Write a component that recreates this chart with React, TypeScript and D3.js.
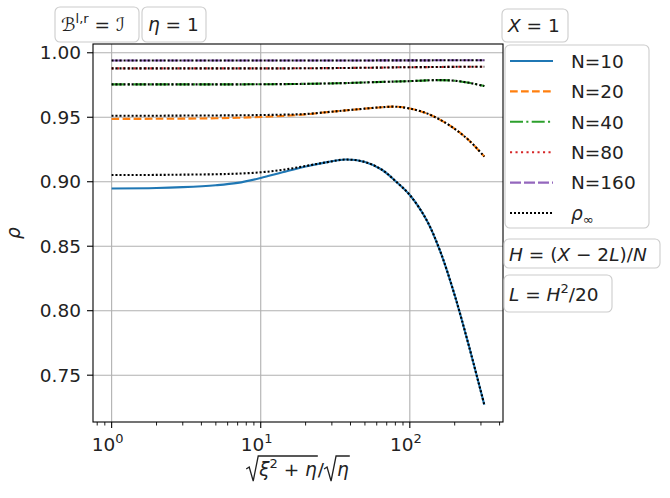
import React, { useEffect, useRef } from 'react';
import * as d3 from 'd3';

// sample positions along sqrt(xi^2+eta)/sqrt(eta)
const xs = [1, 2, 3, 5, 7, 10, 14, 20, 28, 37, 50, 65, 80, 100, 130, 160, 200, 250, 316];

const n10 = [0.8948, 0.8951, 0.8958, 0.8973, 0.8991, 0.9029, 0.9073, 0.9118, 0.9152, 0.9172, 0.9153, 0.9093, 0.9006, 0.8897, 0.8700, 0.8460, 0.8120, 0.7720, 0.7270];
const n20 = [0.9487, 0.9488, 0.9489, 0.9492, 0.9496, 0.9502, 0.9510, 0.9522, 0.9540, 0.9553, 0.9567, 0.9578, 0.9582, 0.9568, 0.9530, 0.9480, 0.9410, 0.9320, 0.9195];
const n40 = [0.9755, 0.9755, 0.9755, 0.9755, 0.9755, 0.9756, 0.9757, 0.9759, 0.9762, 0.9765, 0.9770, 0.9774, 0.9777, 0.9780, 0.9786, 0.9788, 0.9783, 0.9767, 0.9742];
const n80 = [0.9879, 0.9879, 0.9879, 0.9879, 0.9879, 0.9879, 0.9879, 0.9880, 0.9881, 0.9882, 0.9884, 0.9885, 0.9887, 0.9888, 0.9889, 0.9890, 0.9891, 0.9892, 0.9892];
const n160 = [0.9940, 0.9940, 0.9940, 0.9940, 0.9940, 0.9940, 0.9940, 0.9940, 0.9940, 0.9940, 0.9940, 0.9941, 0.9941, 0.9941, 0.9941, 0.9942, 0.9942, 0.9942, 0.9942];

// rho_inf curves (only N=10 and N=20 differ visibly at small x)
const rho10 = [0.9052, 0.9053, 0.9055, 0.9058, 0.9063, 0.9073, 0.9092, 0.9122, 0.9152, 0.9172, 0.9153, 0.9093, 0.9006, 0.8897, 0.8700, 0.8460, 0.8120, 0.7720, 0.7270];
const rho20 = [0.9512, 0.9512, 0.9513, 0.9514, 0.9515, 0.9517, 0.9520, 0.9525, 0.9540, 0.9553, 0.9567, 0.9578, 0.9582, 0.9568, 0.9530, 0.9480, 0.9410, 0.9320, 0.9195];
const rhoInf = [rho10, rho20, n40, n80, n160];

const labels = ['N=10', 'N=20', 'N=40', 'N=80', 'N=160'];
const colors = ['#1f77b4', '#ff7f0e', '#2ca02c', '#d62728', '#9467bd'];
const dashes = [null, '7.7,3.3', '13,3.3,2.1,3.3', '2.1,3.4', '11,3'];

const xTicks = [1, 10, 100];
const yTicks = [0.75, 0.8, 0.85, 0.9, 0.95, 1.0];

const App = () => {
  const svgRef = useRef<SVGSVGElement>(null);

  useEffect(() => {
    const svg = d3.select(svgRef.current);
    svg.selectAll('*').remove();
    const font = 'DejaVu Sans';
    const fs = 18.5;
    const left = 93, right = 503, top = 44, bottom = 422;

    const x = d3.scaleLog().domain([Math.pow(10, -0.125), Math.pow(10, 2.625)]).range([left, right]);
    const y = d3.scaleLinear().domain([0.7137, 1.0068]).range([bottom, top]);

    // grid
    const grid = svg.append('g').attr('stroke', '#b0b0b0').attr('stroke-width', 1.1);
    xTicks.forEach(t => grid.append('line').attr('x1', x(t)).attr('x2', x(t)).attr('y1', top).attr('y2', bottom));
    yTicks.forEach(t => grid.append('line').attr('x1', left).attr('x2', right).attr('y1', y(t)).attr('y2', y(t)));

    const line = d3.line<number>()
      .x((d, i) => x(xs[i]))
      .y(d => y(d))
      .curve(d3.curveCatmullRom.alpha(0.5));

    [n10, n20, n40, n80, n160].forEach((vals, i) => {
      svg.append('path')
        .attr('d', line(vals))
        .attr('fill', 'none')
        .attr('stroke', colors[i])
        .attr('stroke-width', 2.1)
        .attr('stroke-dasharray', dashes[i]);
    });
    rhoInf.forEach(vals => {
      svg.append('path')
        .attr('d', line(vals))
        .attr('fill', 'none')
        .attr('stroke', '#000')
        .attr('stroke-width', 2.1)
        .attr('stroke-dasharray', '2,2');
    });

    // frame
    svg.append('rect')
      .attr('x', left).attr('y', top)
      .attr('width', right - left).attr('height', bottom - top)
      .attr('fill', 'none').attr('stroke', '#000').attr('stroke-width', 1.1);

    // y ticks
    yTicks.forEach(t => {
      svg.append('line').attr('x1', left - 6).attr('x2', left).attr('y1', y(t)).attr('y2', y(t))
        .attr('stroke', '#000').attr('stroke-width', 1.1);
      svg.append('text').attr('x', left - 12).attr('y', y(t)).attr('dy', '0.36em')
        .attr('text-anchor', 'end').attr('font-family', font).attr('font-size', fs).attr('fill', '#222')
        .text(t.toFixed(2));
    });

    // x ticks major + minor
    const minor: number[] = [];
    [0.1, 1, 10, 100].forEach(d => {
      for (let k = 2; k <= 9; k++) {
        const v = d * k;
        if (x(v) >= left && x(v) <= right) minor.push(v);
      }
    });
    minor.forEach(v => {
      svg.append('line').attr('x1', x(v)).attr('x2', x(v)).attr('y1', bottom).attr('y2', bottom + 3.5)
        .attr('stroke', '#000').attr('stroke-width', 0.9);
    });
    xTicks.forEach((t, i) => {
      svg.append('line').attr('x1', x(t)).attr('x2', x(t)).attr('y1', bottom).attr('y2', bottom + 6)
        .attr('stroke', '#000').attr('stroke-width', 1.1);
      const tx = svg.append('text').attr('x', x(t) - 4).attr('y', 451)
        .attr('text-anchor', 'middle').attr('font-family', font).attr('font-size', fs).attr('fill', '#222');
      tx.append('tspan').text('10');
      tx.append('tspan').attr('font-size', 13).attr('dy', -8).text(String(i));
    });

    // y label
    svg.append('text')
      .attr('transform', 'translate(20,233) rotate(-90)')
      .attr('text-anchor', 'middle').attr('font-family', font).attr('font-size', fs)
      .attr('font-style', 'italic').attr('fill', '#222')
      .text('ρ');

    // x label: sqrt(xi^2 + eta)/sqrt(eta)
    const xl = svg.append('g').attr('fill', '#222');
    const base = 476;
    let cx = 0;
    const radical = (x0: number, w: number) => {
      xl.append('path')
        .attr('d', `M${x0},${base - 7} L${x0 + 3},${base - 9} L${x0 + 7},${base + 5} L${x0 + 12},${base - 20} L${x0 + 14 + w},${base - 20}`)
        .attr('fill', 'none').attr('stroke', '#222').attr('stroke-width', 1.3);
    };
    const t1 = xl.append('text').attr('y', base).attr('font-family', font).attr('font-size', fs);
    t1.append('tspan').attr('font-style', 'italic').text('ξ');
    t1.append('tspan').attr('font-size', 13).attr('dy', -8).text('2');
    t1.append('tspan').attr('dy', 8).text(' + ');
    t1.append('tspan').attr('font-style', 'italic').text('η');
    const w1 = (t1.node() as SVGTextElement).getComputedTextLength();
    radical(cx, w1);
    t1.attr('x', cx + 13);
    cx += 13 + w1 + 1;
    const slash = xl.append('text').attr('x', cx).attr('y', base).attr('font-family', font).attr('font-size', fs).text('/');
    cx += (slash.node() as SVGTextElement).getComputedTextLength();
    const t2 = xl.append('text').attr('y', base).attr('font-family', font).attr('font-size', fs)
      .attr('font-style', 'italic').text('η');
    const w2 = (t2.node() as SVGTextElement).getComputedTextLength();
    radical(cx, w2);
    t2.attr('x', cx + 13);
    cx += 13 + w2 + 1;
    xl.attr('transform', `translate(${(left + right) / 2 - cx / 2},0)`);

    // boxes helper
    const box = (bx: number, by: number, bw: number, bh: number) => {
      svg.append('rect').attr('x', bx).attr('y', by).attr('width', bw).attr('height', bh)
        .attr('rx', 5).attr('fill', 'white').attr('fill-opacity', 0.8)
        .attr('stroke', '#cccccc').attr('stroke-width', 1.1);
    };
    const mtext = (tx: number, ty: number, parts: [string, string?][]) => {
      const t = svg.append('text').attr('x', tx).attr('y', ty).attr('font-family', font)
        .attr('font-size', fs).attr('fill', '#222');
      parts.forEach(([s, kind]) => {
        const sp = t.append('tspan').text(s);
        if (kind === 'i') sp.attr('font-style', 'italic');
        if (kind === 'sup') sp.attr('font-size', 13).attr('dy', -8);
        if (kind === 'unsup') sp.attr('dy', 8);
      });
      return t;
    };

    // top-left annotations
    box(55, 7, 84, 35);
    mtext(61, 31, [['ℬ', 'i'], ['l,r', 'sup'], [' = ', 'unsup'], ['ℐ', 'i']]);
    box(142, 7, 64, 35);
    mtext(148, 31, [['η', 'i'], [' = 1']]);

    // legend title box
    box(502, 9, 66, 33);
    mtext(508, 32, [['X', 'i'], [' = 1']]);

    // legend
    box(505, 45, 144, 183);
    const ly = (i: number) => 61 + i * 30.4;
    labels.forEach((lab, i) => {
      svg.append('line').attr('x1', 510).attr('x2', 553).attr('y1', ly(i)).attr('y2', ly(i))
        .attr('stroke', colors[i]).attr('stroke-width', 2.1).attr('stroke-dasharray', dashes[i]);
      svg.append('text').attr('x', 571).attr('y', ly(i) + 6.8).attr('font-family', font)
        .attr('font-size', fs).attr('fill', '#222').text(lab);
    });
    svg.append('line').attr('x1', 510).attr('x2', 553).attr('y1', ly(5)).attr('y2', ly(5))
      .attr('stroke', '#000').attr('stroke-width', 2.1).attr('stroke-dasharray', '2,2');
    const rl = svg.append('text').attr('x', 571).attr('y', ly(5) + 6.8).attr('font-family', font)
      .attr('font-size', fs).attr('fill', '#222');
    rl.append('tspan').attr('font-style', 'italic').text('ρ');
    rl.append('tspan').attr('font-size', 13).attr('dy', 4).text('∞');

    // formula boxes
    box(504, 239, 156, 29);
    mtext(509, 261, [['H', 'i'], [' = ('], ['X', 'i'], [' − 2'], ['L', 'i'], [')/'], ['N', 'i']]);
    box(504, 275, 108, 37);
    mtext(509, 301, [['L', 'i'], [' = '], ['H', 'i'], ['2', 'sup'], ['/20', 'unsup']]);
  }, []);

  return (
    <svg ref={svgRef} width={670} height={498} style={{ position: 'absolute', left: 0, top: 0, background: 'white' }} />
  );
};

export default App;
